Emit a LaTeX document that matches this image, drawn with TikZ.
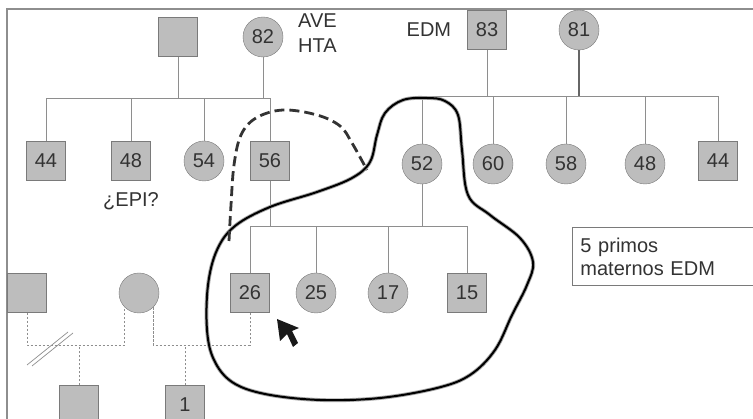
\documentclass[tikz,border=0pt]{standalone}
\usepackage{fontspec}
\setmainfont{Liberation Sans}
\usetikzlibrary{positioning, calc}
\definecolor{nodefill}{HTML}{BDBDBD}
\definecolor{nodeline}{HTML}{7A7A7A}
\definecolor{linegray}{HTML}{8E8E8E}
\definecolor{textgray}{HTML}{333333}

\begin{document}
\begin{tikzpicture}[x=1pt, y=-1pt,
    male/.style={rectangle, draw=nodeline, fill=nodefill, minimum size=39pt, inner sep=0pt,
                 font=\fontsize{20}{22}\selectfont, text=textgray},
    female/.style={circle, draw=nodeline, fill=nodefill, minimum size=40pt, inner sep=0pt,
                   font=\fontsize{20}{22}\selectfont, text=textgray},
    link/.style={draw=linegray, line width=0.9pt},
    dlink/.style={draw=linegray, line width=0.9pt, dash pattern=on 2.5pt off 1.5pt},
    note/.style={font=\fontsize{20}{25}\selectfont, text=textgray, align=left, inner sep=0pt},
    loop/.style={line width=2pt, black, preaction={draw=gray!70, line width=3.8pt}},
    guess/.style={line width=2.8pt, draw=black!80, dash pattern=on 10pt off 5pt}
  ]
  \useasboundingbox (0,0) rectangle (753,419);
  \fill[white] (0,0) rectangle (753,419);
  % frame
  \draw[linegray, line width=1.6pt] (753,9) -- (7,9) -- (7,419);

  % paternal side
  \node[male] (pgf) at (178,37) {};
  \node[female] (pgm) at (263,37) {82};
  \node[note, anchor=west] (ave) at (298,33) {AVE\\HTA};
  \node[male] (p44) at (46,161) {44};
  \node[male] (p48) at (131,161) {48};
  \node[female] (p54) at (204,161) {54};
  \node[male] (dad) at (270,161) {56};
  \node[note, below=12pt of p48] (epi) {¿EPI?};
  \coordinate (psib) at (0,98);
  \draw[link] (pgf.south) -- (pgf.south |- psib);
  \draw[link] (pgm.south) -- (pgm.south |- psib);
  \draw[link] (p44.north) -- (p44.north |- psib) -- (dad.north |- psib) -- (dad.north);
  \draw[link] (p48.north) -- (p48.north |- psib);
  \draw[link] (p54.north) -- (p54.north |- psib);

  % maternal side
  \node[male] (mgf) at (487,30) {83};
  \node[female] (mgm) at (579,30) {81};
  \node[note, left=16pt of mgf] (edm) {EDM};
  \node[female] (mom) at (422,164) {52};
  \node[female] (m60) at (493,164) {60};
  \node[female] (m58) at (566,164) {58};
  \node[female] (m48) at (645,164) {48};
  \node[male] (m44) at (718,161) {44};
  \coordinate (msib) at (0,96);
  \draw[link] (mgf.south) -- (mgf.south |- msib);
  \draw[link] (mom.north) -- (mom.north |- msib) -- (m44.north |- msib) -- (m44.north);
  \draw[link, draw=black!60, line width=1.2pt] (mgm.south) -- (mgm.south |- msib);
  \draw[link] (m60.north) -- (m60.north |- msib);
  \draw[link] (m58.north) -- (m58.north |- msib);
  \draw[link] (m48.north) -- (m48.north |- msib);

  % cousins
  \node[male] (c26) at (250,293) {26};
  \node[female] (c25) at (316,293) {25};
  \node[female] (c17) at (388,293) {17};
  \node[male] (c15) at (467,293) {15};
  \coordinate (csib) at (0,226);
  \draw[link] (dad.south) -- (dad.south |- csib);
  \draw[link] (mom.south) -- (mom.south |- csib);
  \draw[link] (c26.north) -- (c26.north |- csib) -- (c15.north |- csib) -- (c15.north);
  \draw[link] (c25.north) -- (c25.north |- csib);
  \draw[link] (c17.north) -- (c17.north |- csib);

  % proband's family
  \node[male] (exh) at (27,293) {};
  \node[female] (wife) at (139,293) {};
  \node[male] (half) at (79,405) {};
  \node[male] (kid) at (185,405) {1};
  \coordinate (fsib) at (0,345);
  \draw[dlink] (exh.south) -- (exh.south |- fsib) -- (wife.south west |- fsib) -- (wife.south west);
  \draw[dlink] (wife.south east) -- (wife.south east |- fsib) -- (c26.south |- fsib) -- (c26.south);
  \draw[dlink] (half.north) -- (half.north |- fsib);
  \draw[dlink] (kid.north) -- (kid.north |- fsib);
  \draw[linegray, line width=0.7pt] (27,365) -- (68,332) (32,366) -- (73,333);

  % note box
  \node[note, draw=nodeline, line width=0.9pt, anchor=north west, minimum height=58pt,
        text width=190pt, inner xsep=8pt, font=\fontsize{20}{23}\selectfont] (box) at (572,227)
        {5 primos\\maternos EDM};

  % pointer
  \fill[black!90] (277,319) -- (280,341) -- (287,334) -- (293,347) -- (298,343)
    -- (292,331) -- (299,328) -- cycle;

  % outlines
  \draw[loop] plot[smooth cycle, tension=0.6] coordinates {
    (427,98) (445,101) (458,115) (462,150) (468,195) (490,215) (520,238) (533,262)
    (527,285) (512,315) (495,350) (470,375) (437,388) (380,398) (320,400) (265,394)
    (232,382) (214,360) (207,330) (208,285) (217,250) (235,226) (270,207) (317,192)
    (352,178) (370,162) (377,135) (385,113) (403,100)};
  \draw[guess] plot[smooth, tension=0.6] coordinates {
    (229,241) (231,205) (234,165) (241,135) (256,118) (283,110) (317,115) (340,126)
    (352,143) (367,170)};
\end{tikzpicture}
\end{document}
